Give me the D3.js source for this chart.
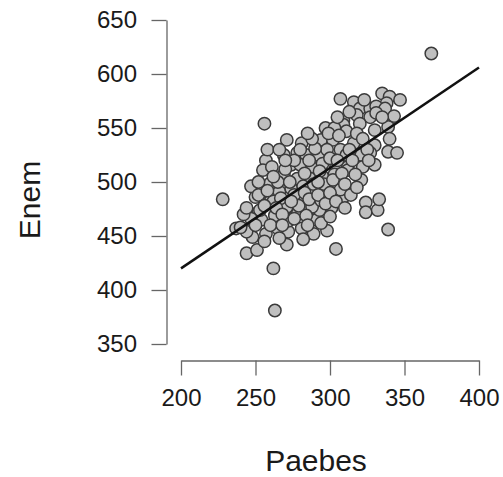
<!DOCTYPE html>
<meta charset="utf-8">
<style>
html, body { margin: 0; padding: 0; background: #fff; overflow: hidden; }
svg { display: block; }
text { font-family: "Liberation Sans", Arial, sans-serif; fill: #1a1a1a; }
.dot { fill: #bfbfbf; stroke: #3a3a3a; stroke-width: 1.5; }
.axis path, .axis line { stroke: #666; stroke-width: 1.3; }
.axis text { font-size: 24px; }
</style>
<body>
<script src="https://d3js.org/d3.v7.min.js"></script>
<script>
// Paebes (x) and Enem (y) scores
var paebes = [368,256,228,263,262,304,339,324,324,332,333,298,289,281,271,272,272,291,301,293,
  285,278,271,309,298,237,244,251,248,257,256,265,260,252,254,244,250,266,307,316,
  335,340,347,338,320,327,331,337,343,318,327,309,331,309,320,297,311,303,330,339,
  271,281,294,302,316,330,339,345,269,278,284,292,298,307,311,321,327,257,255,261,
  274,280,288,295,304,312,322,330,269,278,287,295,303,312,321,247,252,260,266,274,
  282,290,298,307,262,271,280,288,294,253,263,276,284,265,270,276,283,286,290,293,
  296,300,302,305,308,310,313,315,317,318,322,325,326,262,267,273,276,279,283,286,
  289,292,297,300,304,258,256,264,268,274,260,268,247,242,250,285,282,294,300,310,
  314,318,280,288,299,305,313,323,335,340,258,266,270,285,306,292,252,244,240];
var enem = [619,554,484,381,420,438,456,481,472,474,484,455,452,457,442,454,464,465,476,474,
  474,471,476,486,486,457,434,437,449,452,445,457,482,472,465,454,486,448,577,574,
  582,579,576,573,568,568,570,568,561,562,560,557,564,553,554,550,547,550,548,551,
  539,536,539,539,536,534,528,527,525,527,525,525,530,530,525,525,527,520,511,514,
  516,516,513,517,514,514,514,516,507,503,503,505,507,511,502,496,488,499,491,494,
  496,493,494,493,482,477,483,477,483,474,469,466,469,500,512,520,508,520,531,510,
  498,522,502,520,508,498,530,520,507,545,540,530,520,505,485,500,488,478,490,484,
  498,488,480,490,482,492,478,476,470,482,460,460,466,470,460,460,447,462,468,476,
  488,495,530,540,545,560,565,576,560,540,530,530,520,545,543,500,500,476,458];

// fitted line end points
var lineX = [200, 400];
var lineY = [420, 606];

var xTicks = [200, 250, 300, 350, 400];
var yTicks = [350, 400, 450, 500, 550, 600, 650];

var width = 503, height = 477;

var x = d3.scaleLinear().domain([200, 400]).range([181, 479]);
var y = d3.scaleLinear().domain([350, 650]).range([344, 20]);

var svg = d3.select("body").append("svg")
    .attr("width", width)
    .attr("height", height);

var points = paebes.map(function(d, i) { return {x: d, y: enem[i]}; });

svg.selectAll(".dot")
    .data(points)
  .enter().append("circle")
    .attr("class", "dot")
    .attr("cx", function(d) { return x(d.x); })
    .attr("cy", function(d) { return y(d.y); })
    .attr("r", 6.2);

svg.append("line")
    .attr("x1", x(lineX[0])).attr("y1", y(lineY[0]))
    .attr("x2", x(lineX[1])).attr("y2", y(lineY[1]))
    .attr("stroke", "#111")
    .attr("stroke-width", 2.5);

// x axis
svg.append("g")
    .attr("class", "axis")
    .attr("transform", "translate(0,360.5)")
    .call(d3.axisBottom(x).tickValues(xTicks).tickSize(15).tickSizeOuter(0).tickPadding(13.5));

// y axis
svg.append("g")
    .attr("class", "axis")
    .attr("transform", "translate(166.5,0)")
    .call(d3.axisLeft(y).tickValues(yTicks).tickSize(15).tickSizeOuter(0).tickPadding(14.5));

svg.append("text")
    .attr("x", 316)
    .attr("y", 471)
    .attr("text-anchor", "middle")
    .style("font-size", "30px")
    .text("Paebes");

svg.append("text")
    .attr("transform", "translate(40,200) rotate(-90)")
    .attr("text-anchor", "middle")
    .style("font-size", "30px")
    .text("Enem");
</script>
</body>
